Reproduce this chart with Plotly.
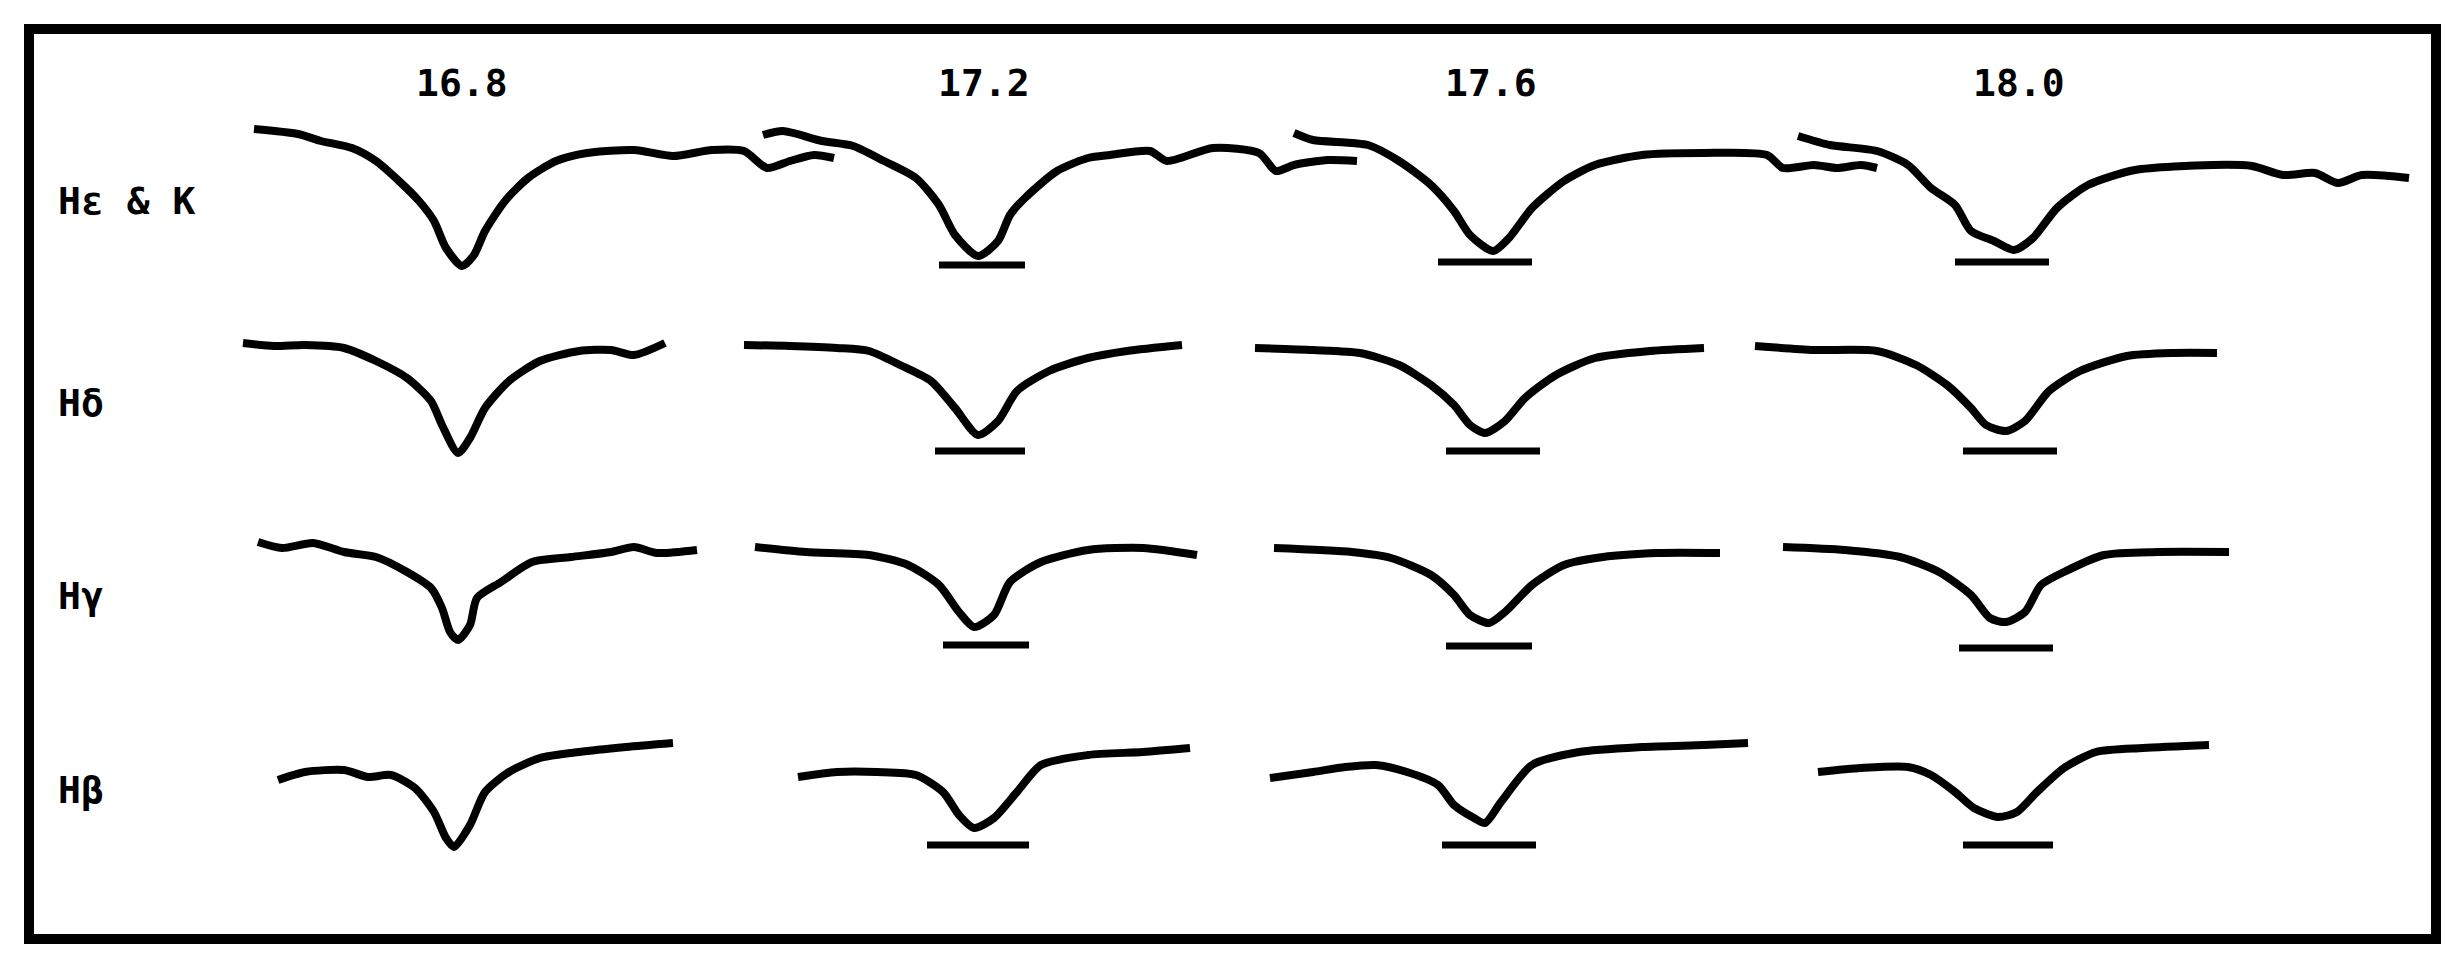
import plotly.graph_objects as go

# ---- column headers (magnitudes) and row labels (lines) ----
magnitudes = ["16.8", "17.2", "17.6", "18.0"]
header_x = [454, 976, 1483, 2011]
header_y = 75
line_names = ["Hε & K", "Hδ", "Hγ", "Hβ"]
label_y = [193, 395, 588, 782]

# ---- traced profiles: position along strip (x) and depth on page (y) ----
# Row 1: Hε & K
hek_168_x = [246, 290, 313, 344, 368, 391, 411, 426, 438, 454, 466, 477, 497, 520, 548, 579, 626, 665, 704, 736, 759, 782, 806, 826]
hek_168_y = [121, 126, 133, 140, 153, 173, 193, 213, 240, 258, 247, 223, 193, 170, 153, 145, 142, 148, 142, 143, 160, 153, 147, 150]
hek_172_x = [755, 775, 814, 845, 876, 908, 931, 947, 970, 990, 1002, 1017, 1049, 1080, 1102, 1142, 1159, 1205, 1251, 1268, 1286, 1320, 1349]
hek_172_y = [127, 123, 133, 138, 153, 170, 197, 227, 248, 233, 207, 190, 163, 150, 147, 143, 153, 140, 145, 163, 157, 152, 153]
hek_176_x = [1286, 1305, 1360, 1391, 1423, 1446, 1462, 1485, 1501, 1524, 1556, 1587, 1634, 1696, 1759, 1775, 1806, 1829, 1853, 1869]
hek_176_y = [125, 132, 137, 153, 177, 203, 227, 243, 230, 200, 173, 157, 147, 145, 147, 160, 157, 160, 157, 160]
hek_180_x = [1790, 1822, 1869, 1900, 1923, 1947, 1963, 1986, 2006, 2025, 2049, 2080, 2127, 2205, 2244, 2275, 2307, 2330, 2354, 2401]
hek_180_y = [128, 137, 143, 157, 180, 197, 223, 233, 242, 230, 200, 177, 162, 157, 158, 167, 165, 175, 167, 170]

# Row 2: Hδ
hd_168_x = [235, 266, 297, 336, 368, 399, 423, 434, 450, 462, 477, 501, 532, 571, 603, 626, 657]
hd_168_y = [335, 338, 337, 340, 353, 370, 393, 417, 445, 430, 400, 373, 353, 343, 342, 347, 335]
hd_172_x = [736, 782, 829, 861, 892, 923, 947, 970, 990, 1009, 1041, 1080, 1119, 1174]
hd_172_y = [337, 338, 340, 343, 357, 373, 400, 427, 413, 383, 363, 350, 343, 337]
hd_176_x = [1247, 1305, 1352, 1391, 1423, 1446, 1462, 1477, 1497, 1517, 1548, 1587, 1642, 1696]
hd_176_y = [340, 342, 345, 357, 377, 397, 417, 425, 413, 390, 367, 350, 343, 340]
hd_180_x = [1747, 1806, 1869, 1908, 1939, 1963, 1978, 1998, 2017, 2041, 2072, 2119, 2166, 2209]
hd_180_y = [338, 342, 343, 357, 377, 400, 417, 423, 413, 383, 363, 348, 345, 345]

# Row 3: Hγ
hg_168_x = [250, 274, 305, 336, 368, 399, 423, 434, 442, 450, 462, 469, 493, 524, 563, 603, 626, 649, 689]
hg_168_y = [534, 540, 535, 544, 549, 564, 580, 600, 624, 632, 617, 590, 574, 554, 549, 544, 539, 545, 542]
hg_172_x = [747, 798, 861, 900, 931, 951, 966, 986, 1002, 1033, 1080, 1135, 1189]
hg_172_y = [539, 544, 547, 557, 577, 604, 619, 607, 574, 554, 542, 540, 547]
hg_176_x = [1266, 1344, 1383, 1423, 1446, 1462, 1481, 1497, 1524, 1556, 1595, 1650, 1712]
hg_176_y = [540, 544, 550, 567, 587, 607, 615, 604, 577, 557, 549, 545, 545]
hg_180_x = [1775, 1837, 1892, 1931, 1963, 1982, 1998, 2017, 2033, 2056, 2096, 2150, 2221]
hg_180_y = [539, 542, 549, 564, 587, 610, 614, 604, 577, 564, 547, 544, 544]

# Row 4: Hβ
hb_168_x = [270, 297, 336, 360, 383, 407, 426, 438, 446, 462, 477, 501, 532, 571, 618, 665]
hb_168_y = [772, 764, 762, 769, 767, 780, 804, 830, 839, 817, 784, 764, 750, 744, 739, 735]
hb_172_x = [790, 829, 869, 908, 935, 951, 966, 986, 1009, 1033, 1080, 1135, 1182]
hb_172_y = [769, 764, 764, 767, 784, 807, 820, 810, 784, 757, 747, 744, 740]
hb_176_x = [1262, 1305, 1337, 1368, 1399, 1430, 1446, 1466, 1477, 1493, 1524, 1571, 1634, 1696, 1740]
hb_176_y = [770, 764, 759, 757, 764, 777, 797, 810, 815, 794, 757, 744, 739, 737, 735]
hb_180_x = [1810, 1853, 1900, 1923, 1947, 1966, 1990, 2009, 2029, 2056, 2088, 2135, 2201]
hb_180_y = [764, 760, 759, 767, 784, 800, 809, 804, 784, 760, 744, 740, 737]

# ---- resolution marks under the line cores (x start, x end, depth) ----
mark_x0 = [931, 1430, 1947, 927, 1438, 1955, 935, 1438, 1951, 919, 1434, 1955]
mark_x1 = [1017, 1524, 2041, 1017, 1532, 2049, 1021, 1524, 2045, 1021, 1528, 2045]
mark_y = [257, 254, 254, 443, 443, 443, 637, 638, 640, 837, 837, 837]

profiles = [
    (hek_168_x, hek_168_y), (hek_172_x, hek_172_y), (hek_176_x, hek_176_y), (hek_180_x, hek_180_y),
    (hd_168_x, hd_168_y), (hd_172_x, hd_172_y), (hd_176_x, hd_176_y), (hd_180_x, hd_180_y),
    (hg_168_x, hg_168_y), (hg_172_x, hg_172_y), (hg_176_x, hg_176_y), (hg_180_x, hg_180_y),
    (hb_168_x, hb_168_y), (hb_172_x, hb_172_y), (hb_176_x, hb_176_y), (hb_180_x, hb_180_y),
]

fig = go.Figure()
for px, py in profiles:
    fig.add_trace(go.Scatter(x=px, y=py, mode="lines",
                             line=dict(color="black", width=8, shape="spline", smoothing=0.7),
                             hoverinfo="skip", showlegend=False))

mx, my = [], []
for a, b, c in zip(mark_x0, mark_x1, mark_y):
    mx += [a, b, None]
    my += [c, c, None]
fig.add_trace(go.Scatter(x=mx, y=my, mode="lines", line=dict(color="black", width=7),
                         hoverinfo="skip", showlegend=False))

font = dict(family="DejaVu Sans Mono", size=38, color="black")
for t, hx in zip(magnitudes, header_x):
    fig.add_annotation(x=hx, y=header_y, text="<b>%s</b>" % t, showarrow=False,
                       xref="x", yref="y", font=font, xanchor="center", yanchor="middle")
for t, ly in zip(line_names, label_y):
    fig.add_annotation(x=48, y=ly, text="<b>%s</b>" % t, showarrow=False,
                       xref="x", yref="y", font=font, xanchor="left", yanchor="middle")

# frame
fig.add_shape(type="rect", x0=21, x1=2428, y0=21, y1=931, xref="x", yref="y",
              line=dict(color="black", width=10))

fig.update_xaxes(range=[0, 2454], visible=False)
fig.update_yaxes(range=[954, 0], visible=False)
fig.update_layout(width=2454, height=954, margin=dict(l=0, r=0, t=0, b=0),
                  plot_bgcolor="white", paper_bgcolor="white")

fig.write_html("out.html")
